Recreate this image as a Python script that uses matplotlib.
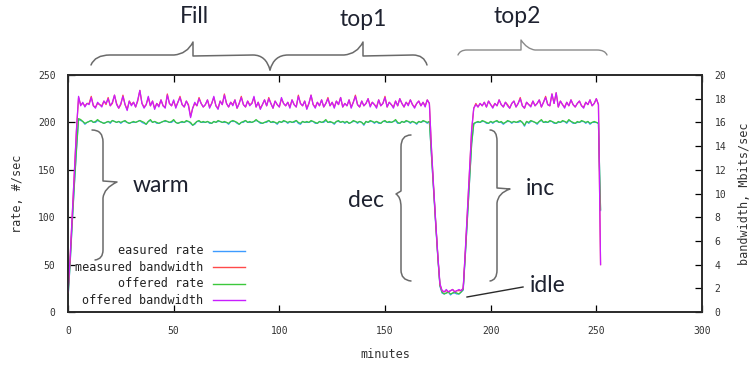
import numpy as np
import matplotlib
matplotlib.use('Agg')
import matplotlib.pyplot as plt
from matplotlib.path import Path
from matplotlib.patches import PathPatch


# rate in #/sec, one sample per minute
offered_rate = [
    15, 52, 95, 135, 172, 204,
    203, 201, 199, 200, 201, 202, 200, 201, 203, 201, 200, 199, 200, 201, 200, 202, 201, 200, 201, 200,
    201, 202, 200, 199, 200, 201, 200, 201, 202, 201, 200, 198, 201, 203, 200, 201, 200, 199, 200, 201,
    202, 201, 200, 201, 203, 200, 199, 200, 201, 200, 202, 201, 200, 197, 199, 201, 202, 200, 201, 200,
    201, 200, 199, 201, 200, 202, 201, 200, 201, 200, 199, 201, 202, 201, 200, 198, 200, 201, 202, 200,
    201, 200, 201, 203, 201, 200, 199, 200, 201, 202, 200, 201, 200, 199, 201, 200, 202, 201, 200, 201,
    200, 201, 202, 200, 199, 201, 200, 201, 200, 202, 201, 200, 199, 201, 200, 201, 203, 200, 201, 200,
    199, 201, 202, 200, 201, 200, 201, 199, 200, 202, 201, 200, 201, 200, 198, 201, 200, 202, 201, 200,
    201, 200, 199, 201, 202, 200, 201, 200, 201, 203, 200, 199, 201, 200, 202, 201, 200, 201, 200, 199,
    201, 200, 202, 201, 200, 201,
    165, 128, 92, 58, 28,
    21, 19, 20, 21, 19, 20, 21, 20, 19, 21,
    24,
    60, 100, 140, 178,
    199, 200, 201, 200, 202, 201, 200, 199, 201, 200, 201, 202, 200, 201, 199, 200, 202, 201, 200, 201,
    200, 201, 202, 200, 197, 201, 200, 202, 201, 200, 199, 201, 203, 200, 201, 200, 202, 201, 200, 199,
    201, 200, 202, 201, 200, 203, 201, 200, 199, 201, 200, 202, 201, 200, 201, 199, 200, 201, 200, 199,
    108,
]

measured_rate = [
    14, 50, 93, 133, 170, 203,
    202, 201, 198, 200, 201, 202, 200, 200, 202, 201, 200, 199, 200, 201, 199, 202, 201, 200, 201, 199,
    201, 201, 200, 199, 200, 200, 200, 201, 202, 200, 199, 198, 201, 202, 200, 201, 199, 199, 200, 201,
    201, 201, 200, 200, 202, 200, 199, 200, 200, 200, 201, 201, 199, 197, 198, 201, 201, 200, 200, 200,
    201, 199, 199, 201, 200, 201, 201, 200, 200, 200, 198, 201, 201, 201, 199, 198, 200, 200, 202, 200,
    200, 200, 201, 202, 201, 199, 199, 200, 200, 202, 200, 200, 200, 198, 201, 200, 201, 201, 199, 201,
    200, 200, 202, 199, 198, 201, 200, 200, 200, 201, 201, 199, 199, 201, 200, 200, 202, 200, 200, 200,
    198, 201, 201, 200, 201, 199, 201, 199, 200, 201, 201, 199, 201, 200, 197, 201, 200, 201, 201, 199,
    201, 199, 199, 201, 201, 200, 200, 200, 201, 202, 199, 199, 201, 200, 201, 201, 199, 201, 200, 198,
    201, 200, 201, 201, 199, 201,
    164, 127, 91, 57, 27,
    20, 19, 20, 21, 18, 20, 20, 19, 19, 21,
    23,
    59, 99, 139, 177,
    198, 200, 200, 200, 201, 201, 199, 199, 201, 199, 201, 201, 200, 200, 198, 200, 201, 201, 199, 201,
    200, 200, 201, 200, 196, 201, 199, 201, 201, 200, 198, 201, 202, 200, 200, 200, 201, 201, 199, 199,
    200, 200, 201, 201, 199, 202, 201, 199, 199, 200, 200, 201, 201, 199, 201, 198, 200, 200, 200, 199,
    107,
]

# bandwidth in Mbits/sec
offered_bw = [
    1.7, 4.6, 8.2, 11.8, 15.4, 18.2,
    17.4, 17.7, 17.3, 17.6, 17.5, 18.1, 17.4, 17.2, 17.7, 17.5, 17.3, 17.8, 17.6, 18.0, 17.4, 17.7, 18.3, 17.5, 17.2, 17.6,
    18.2, 17.5, 17.0, 17.8, 17.4, 17.7, 17.3, 17.9, 18.7, 17.6, 17.2, 17.5, 18.2, 17.4, 17.8, 17.1, 17.6, 17.3, 17.9, 17.4,
    17.2, 18.3, 17.6, 17.4, 17.9, 17.2, 17.7, 18.1, 17.5, 17.3, 17.8, 17.4, 16.4, 17.2, 17.7, 17.4, 18.0, 17.6, 17.3, 17.5,
    17.9, 17.2, 17.6, 18.2, 17.4, 17.1, 17.8, 17.5, 18.3, 17.6, 17.3, 17.7, 17.4, 17.9, 17.2, 17.6, 18.1, 17.5, 17.3, 17.8,
    17.4, 17.6, 18.2, 17.3, 17.7, 17.1, 17.5, 17.9, 17.4, 18.0, 17.6, 17.2, 17.8, 17.5, 17.3, 18.1, 17.6, 17.4, 17.7, 17.2,
    17.9, 17.5, 17.3, 18.2, 17.6, 17.4, 17.8, 17.1, 17.6, 18.3, 17.5, 17.2, 17.7, 17.4, 17.9, 17.3, 17.6, 18.0, 17.4, 17.7,
    17.2, 17.8, 17.5, 18.1, 17.3, 17.6, 17.4, 17.9, 17.2, 17.7, 18.2, 17.5, 17.3, 17.8, 17.4, 17.6, 18.0, 17.3, 17.7, 17.5,
    17.2, 17.9, 17.4, 17.6, 18.1, 17.3, 17.7, 17.5, 17.2, 17.8, 17.4, 18.0, 17.6, 17.3, 17.7, 17.4, 17.9, 17.5, 17.2, 17.6,
    17.8, 17.4, 17.7, 17.3, 17.9, 17.6,
    13.8, 10.6, 7.6, 4.8, 2.4,
    1.8, 1.7, 1.9, 1.7, 1.8, 1.9, 1.7, 1.8, 1.9, 1.8,
    2.0,
    5.2, 8.6, 12.0, 15.4,
    17.2, 17.5, 17.3, 17.6, 17.4, 17.7, 17.3, 17.8, 17.5, 17.2, 17.6, 17.4, 17.9, 17.5, 17.3, 17.7, 17.4, 17.2, 17.6, 17.8,
    17.3, 17.6, 18.0, 17.4, 17.2, 17.7, 17.5, 17.3, 17.8, 17.4, 17.6, 17.9, 17.3, 17.7, 18.1, 17.5, 17.4, 18.4, 17.6, 18.5,
    17.3, 17.8, 17.5, 17.2, 17.7, 17.4, 17.9, 17.5, 17.3, 17.6, 17.8, 17.4, 17.2, 17.7, 17.5, 17.9, 17.4, 17.6, 18.0, 17.5,
    4.0,
]

measured_bw = [
    1.6, 4.5, 8.1, 11.7, 15.3, 18.1,
    17.5, 17.6, 17.4, 17.6, 17.6, 18.2, 17.4, 17.3, 17.6, 17.5, 17.4, 17.8, 17.5, 18.1, 17.4, 17.6, 18.3, 17.6, 17.2, 17.5,
    18.3, 17.5, 17.1, 17.8, 17.5, 17.7, 17.3, 17.8, 18.7, 17.6, 17.3, 17.5, 18.1, 17.4, 17.8, 17.2, 17.6, 17.4, 17.9, 17.4,
    17.3, 18.4, 17.6, 17.4, 17.8, 17.3, 17.7, 18.2, 17.5, 17.3, 17.8, 17.5, 16.5, 17.2, 17.6, 17.4, 18.1, 17.6, 17.3, 17.5,
    17.9, 17.3, 17.6, 18.1, 17.4, 17.2, 17.8, 17.5, 18.4, 17.6, 17.3, 17.7, 17.5, 17.9, 17.2, 17.6, 18.2, 17.5, 17.3, 17.8,
    17.5, 17.6, 18.1, 17.3, 17.7, 17.2, 17.5, 17.9, 17.4, 18.1, 17.6, 17.2, 17.8, 17.5, 17.3, 18.0, 17.6, 17.4, 17.7, 17.3,
    17.9, 17.5, 17.3, 18.3, 17.6, 17.4, 17.8, 17.2, 17.6, 18.3, 17.5, 17.3, 17.7, 17.4, 17.9, 17.3, 17.6, 18.1, 17.4, 17.7,
    17.3, 17.8, 17.5, 18.1, 17.3, 17.6, 17.4, 17.9, 17.3, 17.7, 18.3, 17.5, 17.3, 17.8, 17.4, 17.6, 18.0, 17.4, 17.7, 17.5,
    17.3, 17.9, 17.4, 17.6, 18.2, 17.3, 17.7, 17.5, 17.3, 17.8, 17.4, 18.0, 17.6, 17.3, 17.7, 17.5, 17.9, 17.5, 17.3, 17.6,
    17.8, 17.4, 17.7, 17.4, 17.9, 17.6,
    13.7, 10.5, 7.5, 4.7, 2.3,
    1.8, 1.7, 1.8, 1.7, 1.8, 1.9, 1.7, 1.8, 1.8, 1.8,
    2.0,
    5.1, 8.5, 11.9, 15.3,
    17.2, 17.6, 17.3, 17.6, 17.4, 17.7, 17.3, 17.8, 17.5, 17.3, 17.6, 17.4, 17.9, 17.5, 17.3, 17.7, 17.5, 17.2, 17.6, 17.8,
    17.3, 17.6, 18.1, 17.4, 17.2, 17.7, 17.5, 17.4, 17.8, 17.4, 17.6, 17.9, 17.3, 17.7, 18.2, 17.5, 17.4, 18.4, 17.6, 18.5,
    17.3, 17.8, 17.5, 17.3, 17.7, 17.4, 17.9, 17.5, 17.3, 17.6, 17.8, 17.4, 17.3, 17.7, 17.5, 17.9, 17.4, 17.6, 18.0, 17.5,
    4.0,
]

series_labels = ['easured rate', 'measured bandwidth', 'offered rate', 'offered bandwidth']
series_colors = ['#3d9bff', '#ff4a4a', '#3cc83c', '#c81eff']

x_ticks = [0, 50, 100, 150, 200, 250, 300]
rate_ticks = [0, 50, 100, 150, 200, 250]
bw_ticks = [0, 2, 4, 6, 8, 10, 12, 14, 16, 18, 20]

minutes = np.arange(len(offered_rate))

MONO = 'DejaVu Sans Mono'
NOTE_FONT = ['Lato', 'DejaVu Sans']
NOTE_COLOR = '#1e2230'
BRACE_COLOR = '#6a6a6a'

fig = plt.figure(figsize=(7.5, 3.68), dpi=100)
ax = fig.add_axes([68 / 750, 1 - 312 / 368, 634 / 750, 237 / 368])
ax2 = ax.twinx()

# rate on the left axis, bandwidth on the right one
ax.plot(minutes, measured_rate, color=series_colors[0], lw=0.9)
ax.plot(minutes, offered_rate, color=series_colors[2], lw=0.9)
ax2.plot(minutes, measured_bw, color=series_colors[1], lw=0.9)
ax2.plot(minutes, offered_bw, color=series_colors[3], lw=0.9)

ax.set_xlim(0, 300)
ax.set_ylim(0, 250)
ax2.set_ylim(0, 20)
ax.set_xticks(x_ticks)
ax.set_yticks(rate_ticks)
ax2.set_yticks(bw_ticks)

for a in (ax, ax2):
    for s in a.spines.values():
        s.set_linewidth(1.2)
        s.set_color('#2a2a2a')
ax.tick_params(axis='x', direction='in', top=True, length=5, width=0.9, pad=10,
               labelsize=7, labelcolor='#333333')
ax.tick_params(axis='y', direction='in', right=False, length=5, width=0.9, pad=9,
               labelsize=7, labelcolor='#333333')
ax2.tick_params(axis='y', direction='in', length=5, width=0.9, pad=9,
                labelsize=7, labelcolor='#333333')
for lab in ax.get_xticklabels() + ax.get_yticklabels() + ax2.get_yticklabels():
    lab.set_family(MONO)

ax.text(-50 / 634, 0.5, 'rate, #/sec', transform=ax.transAxes, rotation=90,
        ha='center', va='center', family=MONO, fontsize=8.5, color='#333333')
ax.text(677 / 634, 0.5, 'bandwidth, Mbits/sec', transform=ax.transAxes, rotation=90,
        ha='center', va='center', family=MONO, fontsize=8.5, color='#333333')
ax.text(0.5, -43 / 237, 'minutes', transform=ax.transAxes,
        ha='center', va='center', family=MONO, fontsize=8.5, color='#333333')

# overlay in pixel coordinates for the legend and the notes
ov = fig.add_axes([0, 0, 1, 1], zorder=5)
ov.set_xlim(0, 750)
ov.set_ylim(368, 0)
ov.axis('off')
ov.patch.set_alpha(0)

for i, (lab, col) in enumerate(zip(series_labels, series_colors)):
    yy = 251 + i * 16.4
    ov.text(203, yy, lab, ha='right', va='center', family=MONO, fontsize=8.5, color='#222222')
    ov.plot([213, 245], [yy, yy], color=col, lw=1.0)

M, L, Q = Path.MOVETO, Path.LINETO, Path.CURVE3


def draw_brace(steps, color=BRACE_COLOR, lw=1.1):
    verts, codes = [], []
    for code, *pts in steps:
        for p in pts:
            verts.append(p)
            codes.append(code)
    ov.add_patch(PathPatch(Path(verts, codes), fill=False, edgecolor=color, lw=lw,
                           capstyle='round', joinstyle='round'))


# braces over the phases
draw_brace([(M, (91, 65)), (Q, (95, 55), (110, 55)), (L, (174, 55)),
            (Q, (187, 54), (193, 42)), (L, (193, 56)), (L, (253, 55)),
            (Q, (266, 55), (270, 70))])
draw_brace([(M, (270, 70)), (Q, (274, 55), (288, 55)), (L, (344, 55)),
            (Q, (357, 54), (363, 42)), (L, (363, 56)), (L, (413, 55)),
            (Q, (424, 55), (427, 65))])
draw_brace([(M, (458, 55)), (Q, (460, 50), (467, 50)), (L, (521, 50)),
            (L, (521, 40)), (Q, (527, 49), (535, 50)), (L, (597, 50)),
            (Q, (605, 50), (607, 55))], color='#8a8a8a', lw=1.0)

# warm, dec and inc
draw_brace([(M, (92, 130)), (Q, (103, 130), (103, 142)), (L, (103, 181)),
            (L, (117, 182)), (Q, (104, 188), (103, 198)), (L, (103, 250)),
            (Q, (103, 259), (95, 260))])
draw_brace([(M, (411, 135)), (Q, (401, 135), (401, 147)), (L, (401, 191)),
            (L, (396, 194)), (Q, (401, 197), (401, 207)), (L, (401, 270)),
            (Q, (401, 280), (411, 281))])
draw_brace([(M, (490, 130)), (Q, (497, 130), (497, 141)), (L, (497, 188)),
            (L, (510, 189)), (Q, (498, 193), (497, 203)), (L, (497, 270)),
            (Q, (497, 280), (490, 281))])
ov.plot([467, 523], [297, 287], color='#2a2a2a', lw=1.0)

notes = [('Fill', 194, 22.7), ('top1', 363.5, 26), ('top2', 517, 22.7),
         ('warm', 161, 191.7), ('dec', 366, 207), ('inc', 540, 195), ('idle', 547.5, 291.7)]
for txt, nx, ny in notes:
    ov.text(nx, ny, txt, ha='center', va='baseline', family=NOTE_FONT,
            fontsize=16.5, color=NOTE_COLOR)

fig.savefig('out.png', dpi=100)
